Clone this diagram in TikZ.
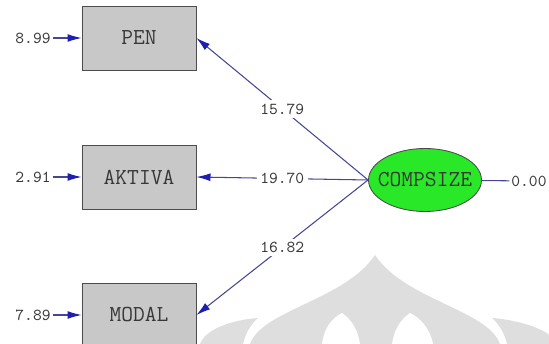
\documentclass[tikz,border=0pt]{standalone}
\usepackage{tikz}
\usetikzlibrary{arrows.meta,shapes.geometric}

\definecolor{boxgray}{RGB}{200,200,200}
\definecolor{latgreen}{RGB}{40,232,40}
\definecolor{pathblue}{RGB}{70,70,150}
\definecolor{tipblue}{RGB}{30,30,175}
\definecolor{txtgray}{RGB}{55,55,55}
\definecolor{wmgray}{RGB}{222,222,222}

\begin{document}
\begin{tikzpicture}[x=0.02cm, y=-0.02cm,
		obsbox/.style={draw=black!70, fill=boxgray, minimum width=2.28cm, minimum height=1.28cm, line width=0.5pt, text=txtgray, font=\ttfamily\fontsize{13}{15}\selectfont},
		latent/.style={ellipse, draw=black!70, fill=latgreen, minimum width=2.26cm, minimum height=1.26cm, inner sep=0pt, line width=0.5pt, text=txtgray, font=\ttfamily\fontsize{13}{15}\selectfont},
		num/.style={text=txtgray, inner sep=1pt, font=\ttfamily\fontsize{9.5}{11}\selectfont},
		load/.style={draw=pathblue, line width=0.6pt, -{Latex[length=8pt, width=4.5pt, color=tipblue]}}]
		\useasboundingbox (0,0) rectangle (549,344);

		% watermark in the background
		\fill[wmgray] (250,344) .. controls (262,310) and (345,300) .. (375,255) .. controls (405,300) and (488,310) .. (500,344) -- cycle;
		\fill[white] (322,344) .. controls (324,328) and (332,318) .. (342,313) .. controls (352,320) and (358,330) .. (360,344) -- cycle;
		\fill[white] (392,344) .. controls (394,330) and (400,320) .. (410,313) .. controls (420,318) and (430,328) .. (433,344) -- cycle;
		\fill[wmgray] (200,344) .. controls (205,330) and (230,320) .. (258,318) .. controls (250,325) and (245,335) .. (243,344) -- cycle;
		\fill[wmgray] (492,318) .. controls (520,320) and (545,330) .. (549,335) -- (549,344) -- (507,344) .. controls (505,335) and (500,325) .. (492,318);

		\node[obsbox] (pen) at (139,38) {PEN};
		\node[obsbox] (aktiva) at (139,177) {AKTIVA};
		\node[obsbox] (modal) at (139,315) {MODAL};
		\node[latent] (compsize) at (425,180) {\makebox[0pt]{COMPSIZE}};

		\node[num] (epen) at (33,38) {8.99};
		\node[num] (eaktiva) at (33,177) {2.91};
		\node[num] (emodal) at (33,315) {7.89};
		\node[num] (ecomp) at (529,181) {0.00};

		\draw[load] (epen) -- (pen);
		\draw[load] (eaktiva) -- (aktiva);
		\draw[load] (emodal) -- (modal);
		\draw[draw=pathblue, line width=0.6pt] (compsize) -- (ecomp);

		\draw[load] (compsize.west) -- node[num, fill=white, inner sep=2pt] (lpen) {15.79} (pen.east);
		\draw[load] (compsize.west) -- node[num, fill=white, inner sep=2pt] (laktiva) {19.70} (aktiva.east);
		\draw[load] (compsize.west) -- node[num, fill=white, inner sep=2pt] (lmodal) {16.82} (modal.east);
	\end{tikzpicture}
\end{document}
